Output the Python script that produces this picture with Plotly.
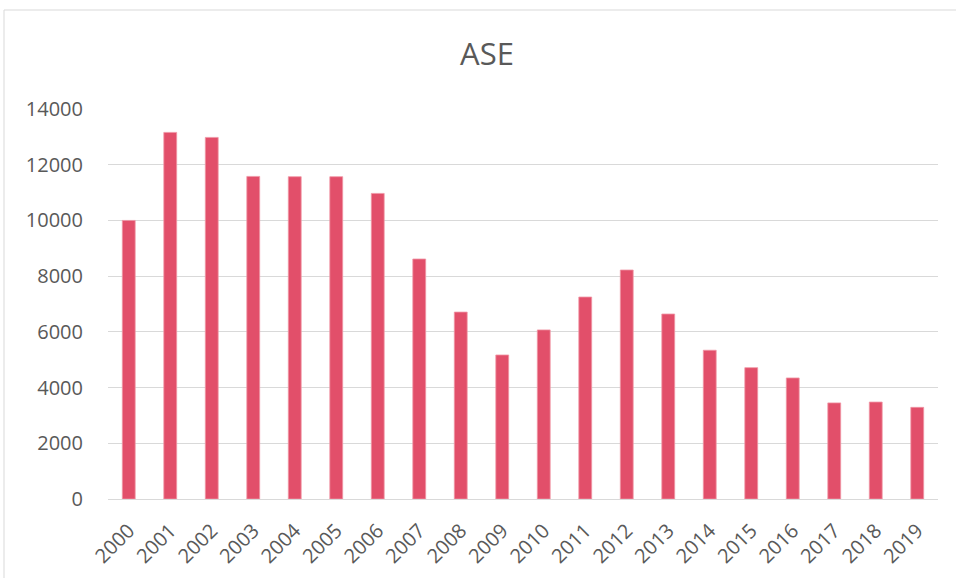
import plotly.graph_objects as go

years = ["2000", "2001", "2002", "2003", "2004", "2005", "2006", "2007", "2008", "2009",
         "2010", "2011", "2012", "2013", "2014", "2015", "2016", "2017", "2018", "2019"]
values = [10000, 13160, 12980, 11580, 11570, 11570, 10970, 8615, 6710, 5170,
          6070, 7250, 8220, 6640, 5340, 4715, 4345, 3450, 3480, 3290]
y_ticks = [0, 2000, 4000, 6000, 8000, 10000, 12000, 14000]

FONT = "Open Sans, sans-serif"

fig = go.Figure(go.Bar(
    x=years, y=values,
    marker=dict(color="rgb(226,79,106)", line=dict(color="rgb(240,150,165)", width=0.8)),
))

fig.update_layout(
    width=956, height=578,
    margin=dict(l=108, r=18, t=109, b=79),
    paper_bgcolor="white", plot_bgcolor="white",
    bargap=0.69,
    showlegend=False,
    title=dict(text="ASE", x=487 / 956, xref="container", xanchor="center",
               y=1 - 54 / 578, yref="container", yanchor="middle",
               font=dict(family=FONT, size=31, color="#595959")),
    font=dict(family=FONT, color="#595959", size=20),
    xaxis=dict(tickangle=-45, showgrid=False, showline=False, automargin=False,
               ticks="outside", ticklen=11, tickcolor="rgba(0,0,0,0)",
               tickfont=dict(size=20)),
    yaxis=dict(range=[0, 14000], tickvals=y_ticks, tickformat="d", automargin=False,
               showgrid=True, gridcolor="#D9D9D9", gridwidth=1,
               zeroline=True, zerolinecolor="#D9D9D9", zerolinewidth=1,
               ticks="outside", ticklen=20, tickcolor="rgba(0,0,0,0)", showline=False,
               tickfont=dict(size=20)),
    shapes=[dict(type="rect", xref="paper", yref="paper",
                 x0=(4 - 108) / 830, x1=(962 - 108) / 830,
                 y0=(499 - 590) / 390, y1=1 + (109 - 10) / 390,
                 line=dict(color="#D9D9D9", width=1), layer="below")],
)

fig.write_html("out.html", config={"displayModeBar": False},
               post_script="document.body.style.margin='0';document.body.style.overflow='hidden';")
